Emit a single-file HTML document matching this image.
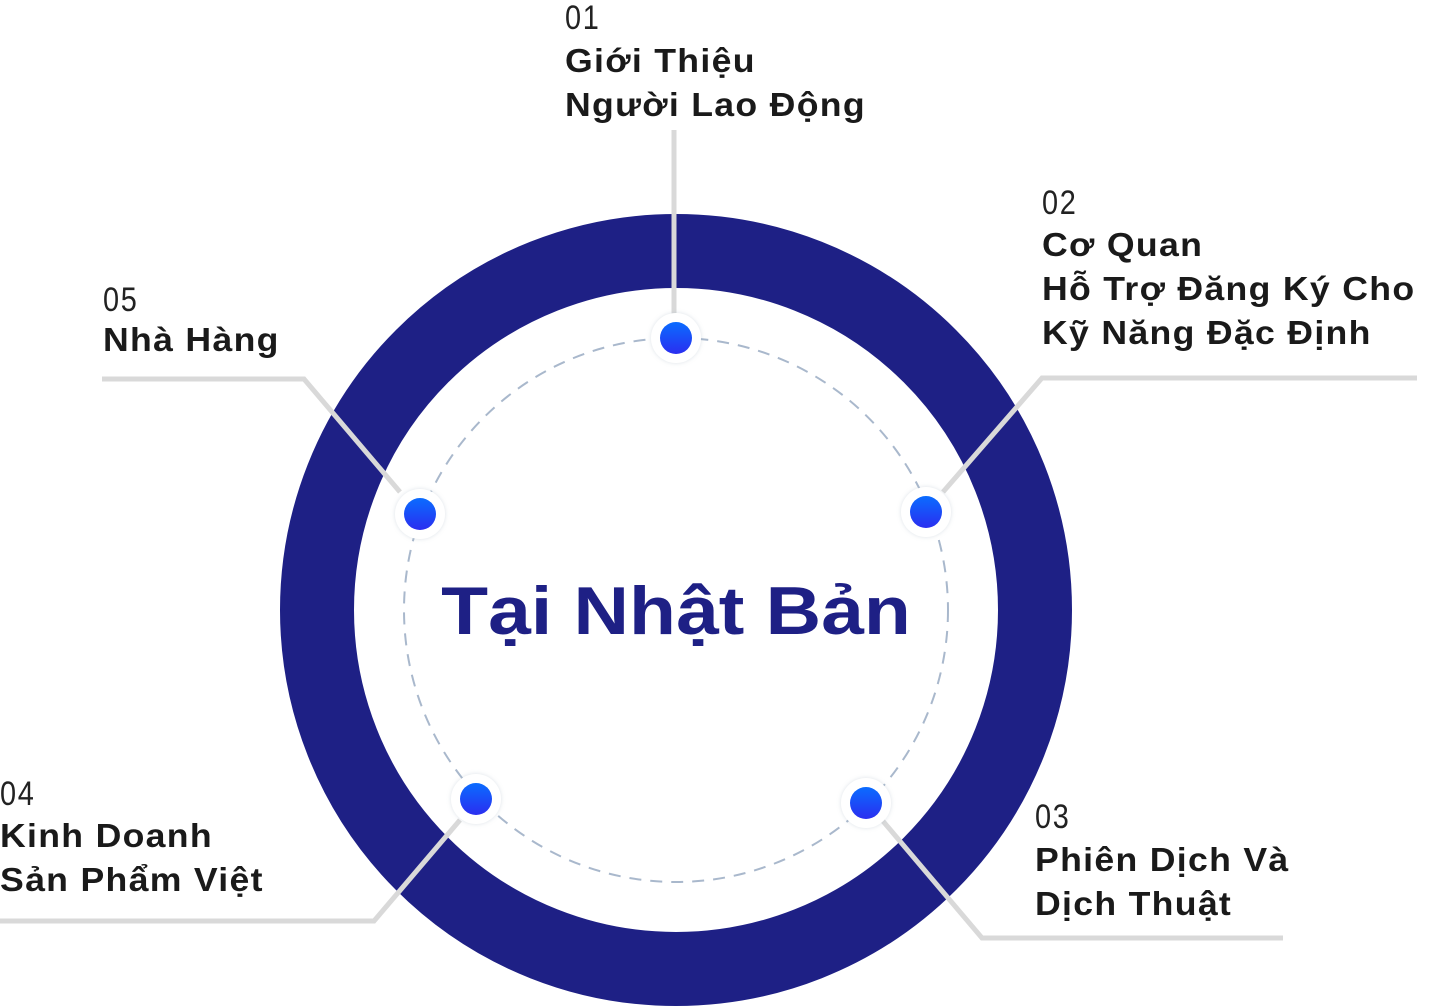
<!DOCTYPE html>
<html><head><meta charset="utf-8"><style>
body{margin:0;width:1432px;height:1006px;background:#fff;position:relative;overflow:hidden;font-family:"Liberation Sans",sans-serif}
.n{position:absolute;font-size:34px;line-height:36px;color:#222;letter-spacing:2px;font-weight:normal;transform:scaleX(0.85);transform-origin:left top}
.t{position:absolute;font-size:33px;line-height:44px;color:#1a1a1a;font-weight:bold;letter-spacing:1.2px;white-space:nowrap;transform:scaleX(1.08);transform-origin:left top}
</style></head><body>
<svg width="1432" height="1006" style="position:absolute;left:0;top:0">
<defs>
<linearGradient id="g" x1="0" y1="0" x2="0" y2="1"><stop offset="0" stop-color="#0a6cff"/><stop offset="1" stop-color="#2a2ef0"/></linearGradient>
<filter id="s" x="-50%" y="-50%" width="200%" height="200%"><feDropShadow dx="0" dy="0" stdDeviation="2" flood-color="#9ab" flood-opacity="0.35"/></filter>
</defs>
<circle cx="676" cy="610" r="359" fill="none" stroke="#1e2085" stroke-width="74"/>
<circle cx="676" cy="610" r="272" fill="none" stroke="#a9b8cc" stroke-width="2" stroke-dasharray="12 9"/>
<g stroke="#d9d9d9" stroke-width="5" fill="none">
<polyline points="674,130 674,315"/>
<polyline points="943,492 1042,378 1417,378"/>
<polyline points="400,492 304,379 102,379"/>
<polyline points="460,820 374,921 0,921"/>
<polyline points="882,820 982,938 1283,938"/>
</g>
<g>
<circle cx="676" cy="338" r="25" fill="#fff" filter="url(#s)"/><circle cx="676" cy="338" r="16" fill="url(#g)"/>
<circle cx="926" cy="512" r="25" fill="#fff" filter="url(#s)"/><circle cx="926" cy="512" r="16" fill="url(#g)"/>
<circle cx="866" cy="803" r="25" fill="#fff" filter="url(#s)"/><circle cx="866" cy="803" r="16" fill="url(#g)"/>
<circle cx="476" cy="799" r="25" fill="#fff" filter="url(#s)"/><circle cx="476" cy="799" r="16" fill="url(#g)"/>
<circle cx="420" cy="514" r="25" fill="#fff" filter="url(#s)"/><circle cx="420" cy="514" r="16" fill="url(#g)"/>
</g>
</svg>
<div style="position:absolute;left:376px;top:566px;width:600px;text-align:center;font-size:68px;line-height:90px;font-weight:bold;color:#1e2085;transform:scaleX(1.13);">Tại Nhật Bản</div>
<div class="n" style="left:565px;top:0px">01</div>
<div class="t" style="left:565px;top:39px">Giới Thiệu<br>Người Lao Động</div>
<div class="n" style="left:1042px;top:185px">02</div>
<div class="t" style="left:1042px;top:223px">Cơ Quan<br>Hỗ Trợ Đăng Ký Cho<br>Kỹ Năng Đặc Định</div>
<div class="n" style="left:103px;top:282px">05</div>
<div class="t" style="left:103px;top:318px">Nhà Hàng</div>
<div class="n" style="left:0px;top:776px">04</div>
<div class="t" style="left:0px;top:814px">Kinh Doanh<br>Sản Phẩm Việt</div>
<div class="n" style="left:1035px;top:799px">03</div>
<div class="t" style="left:1035px;top:838px">Phiên Dịch Và<br>Dịch Thuật</div>
</body></html>
